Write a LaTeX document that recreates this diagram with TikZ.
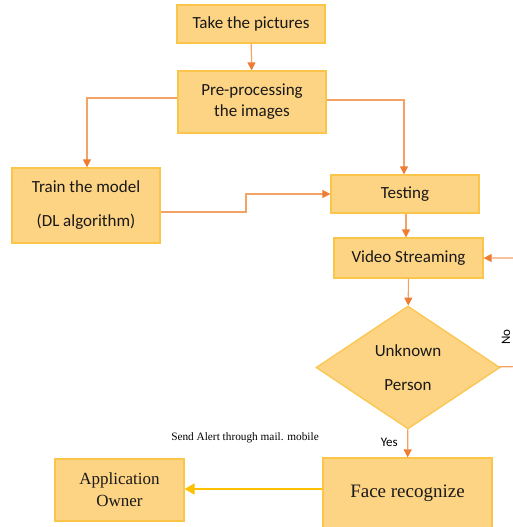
\documentclass[tikz,border=0pt]{standalone}
\usepackage{fontspec}
\setmainfont{Carlito}
\newfontfamily\timesfont{Liberation Serif}
\usetikzlibrary{arrows.meta,shapes.geometric}
\definecolor{boxfill}{HTML}{FDD384}
\definecolor{boxline}{HTML}{FBC54A}
\definecolor{linkline}{HTML}{F4A265}
\definecolor{linkhead}{HTML}{EE7D33}
\definecolor{alertline}{HTML}{FFC000}
\begin{document}
\begin{tikzpicture}[x=1pt,y=-1pt]
\tikzstyle{Block} = [draw=boxline, fill=boxfill, line width=1.2pt, inner sep=0, align=center, font={\fontsize{17}{21}\selectfont}, text=black!90]
\tikzstyle{Decision} = [Block, shape=diamond, minimum width=184, minimum height=123]
\tikzstyle{Link} = [draw=linkline, line width=1.2pt, -{Triangle[length=8pt,width=8pt,color=linkhead]}]
\tikzstyle{inv} = [outer sep=0,inner sep=0,minimum size=0]
\useasboundingbox (0,0) rectangle (512,527);
\node [Block, minimum width=148, minimum height=38] (v1) at (251,24) {Take the pictures};
\node [Block, minimum width=148, minimum height=62] (v2) at (252,102) {Pre-processing\\the images};
\node [Block, minimum width=148, minimum height=75, font={\fontsize{17}{34}\selectfont}] (v3) at (86,205.5) {Train the model\\(DL algorithm)};
\node [Block, minimum width=148, minimum height=38] (v4) at (405,194) {Testing};
\node [Block, minimum width=149, minimum height=40] (v5) at (408.5,258) {Video Streaming};
\node [Decision, font={\fontsize{17}{34}\selectfont}] (v6) at (408,367.5) {Unknown\\Person};
\node [Block, minimum width=169, minimum height=70, font={\timesfont\fontsize{19}{22}\selectfont}] (v7) at (407.5,493) {Face recognize};
\node [Block, minimum width=129, minimum height=62, font={\timesfont\fontsize{17}{22}\selectfont}] (v8) at (119.5,490) {Application\\Owner};
\node [inv] (v9) at (530,366.5) {};
\node [inv] (v10) at (530,258) {};
\node [inv, font={\timesfont\fontsize{11.3}{13}\selectfont}] at (245,438) {Send Alert through mail. mobile};
\draw [Link] (v1) -- (v2);
\draw [Link] (v2.west |- 0,98) -| (v3.north -| 87,0);
\draw [Link] (v2.east |- 0,100) -| (v4.north -| 404,0);
\draw [Link] (v3.east |- 0,212) -- (246,212) |- (v4.west);
\draw [Link] (v4.south -| 406,0) -- (v5.north -| 406,0);
\draw [Link] (v5) -- (v6);
\draw [Link] (v6) -- (v7) node[pos=0.45,left=6pt,font={\fontsize{13}{15}\selectfont}] {Yes};
\draw [Link] (v6) -- (v9) -- (v10) -- (v5);
\node [inv, rotate=90, font={\fontsize{13}{15}\selectfont}] at (506,337) {No};
\draw [draw=alertline, line width=2pt, -{Triangle[length=10pt,width=11pt]}] (v7.west |- 0,489) -- (v8.east |- 0,489);
\end{tikzpicture}
\end{document}
